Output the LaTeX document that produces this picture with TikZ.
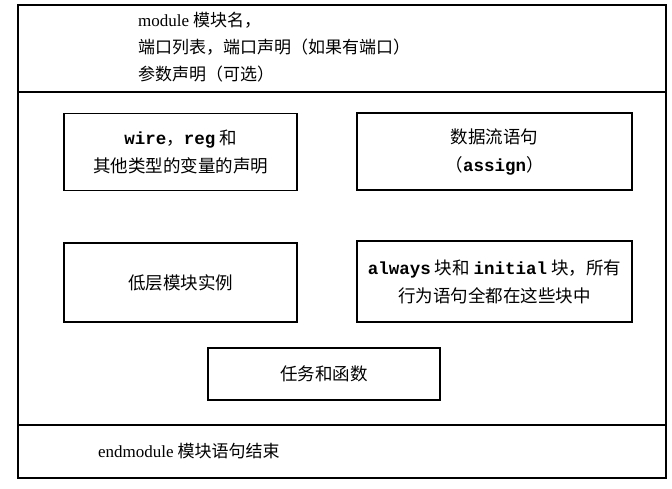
\documentclass[tikz,border=0pt]{standalone}
\usepackage{fontspec}
\setmainfont{Liberation Serif}
\newfontfamily\cjk{Noto Sans CJK SC}
\newfontfamily\codef{Liberation Mono}
\newcommand{\code}[1]{{\codef\bfseries #1}}
\begin{document}
\begin{tikzpicture}[x=1pt,y=-1pt,
  boxst/.style={draw, line width=1.3pt, inner sep=0pt, align=center,
     font=\fontsize{17.5}{28}\selectfont\cjk},
  txt/.style={inner sep=0pt, anchor=west, align=left,
     font=\fontsize{17}{27}\selectfont\cjk}]
\useasboundingbox (0,0) rectangle (672,488);
\fill[white] (0,0) rectangle (672,488);
% outer frame
\node[draw, line width=1.5pt, minimum width=648pt, minimum height=473pt, inner sep=0pt] (outer) at (342,241.5) {};
\coordinate (s1l) at (18,92);
\coordinate (s1r) at (666,92);
\coordinate (s2l) at (18,425);
\coordinate (s2r) at (666,425);
\draw[line width=1.5pt] (s1l) -- (s1r);
\draw[line width=1.5pt] (s2l) -- (s2r);
% header text
\node[txt] (head) at (138,47) {{\rmfamily module} 模块名，\\端口列表，端口声明（如果有端口）\\参数声明（可选）};
% boxes
\node[boxst, minimum width=233pt, minimum height=77pt] (b1) at (180.5,152) {\code{wire}，\code{reg} 和\\其他类型的变量的声明};
\node[boxst, minimum width=275pt, minimum height=77pt] (b2) at (494.5,151.5) {数据流语句\\（\code{assign}）};
\node[boxst, minimum width=233pt, minimum height=79pt] (b3) at (180.5,282.5) {低层模块实例};
\node[boxst, minimum width=275pt, minimum height=81pt] (b4) at (494.5,281.5) {\code{always} 块和 \code{initial} 块，所有\\行为语句全都在这些块中};
\node[boxst, minimum width=232pt, minimum height=52pt] (b5) at (324,374) {任务和函数};
% footer
\node[txt] (foot) at (98,451) {{\rmfamily endmodule} 模块语句结束};
\end{tikzpicture}
\end{document}
